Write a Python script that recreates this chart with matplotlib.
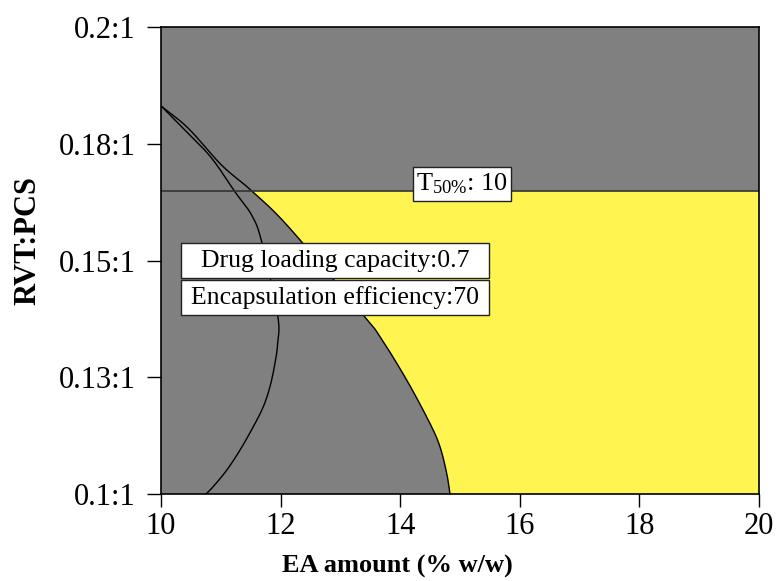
import matplotlib
matplotlib.use("Agg")
import numpy as np
import matplotlib.pyplot as plt
from matplotlib.patches import Rectangle, Polygon

# Data
x_ticks = [10, 12, 14, 16, 18, 20]
y_ticks = [0.1, 0.125, 0.15, 0.175, 0.2]
y_ticklabels = ["0.1:1", "0.13:1", "0.15:1", "0.18:1", "0.2:1"]

# Drug loading capacity = 0.7 contour (boundary of the yellow region)
dlc_x = [10.0, 10.457, 11.015, 11.517, 12.14, 13.383, 13.662, 14.109, 14.498, 14.666, 14.778, 14.833]
dlc_y = [0.1831, 0.1783, 0.1704, 0.1649, 0.1571, 0.1383, 0.1337, 0.1244, 0.1151, 0.1101, 0.1044, 0.1000]

# Encapsulation efficiency = 70 contour
ee_x = [10.0, 10.457, 10.848, 11.237, 11.517, 11.684, 11.951, 11.951, 11.906, 11.823, 11.711, 11.543, 11.321, 11.099, 10.875, 10.753]
ee_y = [0.1831, 0.1772, 0.1719, 0.1647, 0.1597, 0.1540, 0.1383, 0.1323, 0.1280, 0.1230, 0.1187, 0.1144, 0.1094, 0.1051, 0.1016, 0.1000]

# T50% = 10 contour
t50_y = 0.1649
t50_x = [10.0, 20.0]

plt.rcParams['font.family'] = ['Liberation Serif', 'DejaVu Serif']
plt.rcParams['mathtext.fontset'] = 'custom'
plt.rcParams['mathtext.rm'] = 'Liberation Serif'
plt.rcParams['mathtext.it'] = 'Liberation Serif'


def smooth(xs, ys, n=20):
    """Catmull-Rom rendering path through the read points (drawing only)."""
    P = np.column_stack([(np.array(xs) - 10) / 10.0, (np.array(ys) - 0.1) / 0.1])
    P = np.vstack([2 * P[0] - P[1], P, 2 * P[-1] - P[-2]])
    out = []
    for i in range(1, len(P) - 2):
        p0, p1, p2, p3 = P[i - 1], P[i], P[i + 1], P[i + 2]
        for t in np.linspace(0, 1, n, endpoint=False):
            t2, t3 = t * t, t * t * t
            pt = 0.5 * ((2 * p1) + (-p0 + p2) * t + (2 * p0 - 5 * p1 + 4 * p2 - p3) * t2
                        + (-p0 + 3 * p1 - 3 * p2 + p3) * t3)
            out.append(pt)
    out.append(P[-2])
    out = np.array(out)
    return out[:, 0] * 10 + 10, out[:, 1] * 0.1 + 0.1


fig = plt.figure(figsize=(7.83, 5.81), dpi=100)
ax = fig.add_axes([161/783, 1-494/581, (759-161)/783, (494-27)/581])
ax.set_xlim(10, 20)
ax.set_ylim(0.1, 0.2)
ax.set_facecolor('#808080')

dx, dy = smooth(dlc_x, dlc_y)
ex, ey = smooth(ee_x, ee_y)

# yellow region below T50 line, then grey region left of the DLC contour on top
ax.fill_between([10, 20], [0.1, 0.1], [t50_y, t50_y], facecolor='#FFF450', edgecolor='none', zorder=1)
gray_poly = list(zip(dx, dy)) + [(10, 0.1)]
ax.add_patch(Polygon(gray_poly, closed=True, facecolor='#808080', edgecolor='none', zorder=1.5))

ax.plot(dx, dy, color='black', lw=1.0, zorder=2)
ax.plot(ex, ey, color='black', lw=1.0, zorder=2)
ax.plot(t50_x, [t50_y, t50_y], color='#333333', lw=1.2, zorder=2)

ax.set_xticks(x_ticks)
ax.set_yticks(y_ticks)
ax.set_yticklabels(y_ticklabels)
ax.tick_params(axis='x', direction='out', length=9, width=1, labelsize=22, pad=4)
ax.tick_params(axis='y', direction='out', length=10, width=1, labelsize=22, pad=8)
for s in ax.spines.values():
    s.set_linewidth(1.2)

ax.set_xlabel('EA amount (% w/w)', fontsize=19, fontweight='bold')
ax.set_ylabel('RVT:PCS', fontsize=22, fontweight='bold')
ax.xaxis.set_label_coords((397 - 161) / 598, (494 - 566) / 467)
ax.xaxis.label.set_va('center')
ax.yaxis.set_label_coords((27.5 - 161) / 598, (494 - 241) / 467)
ax.yaxis.label.set_va('center')
ax.yaxis.label.set_ha('center')


def box(x0, y0, x1, y1, text, fs=18.5):
    X0 = (x0-161)/(759-161); X1 = (x1-161)/(759-161)
    Y0 = (494-y1)/(494-27); Y1 = (494-y0)/(494-27)
    ax.add_patch(Rectangle((X0, Y0), X1-X0, Y1-Y0, transform=ax.transAxes,
                           facecolor='white', edgecolor='#222222', lw=1.0, zorder=5))
    ax.text((X0+X1)/2, (Y0+Y1)/2, text, transform=ax.transAxes, ha='center', va='center',
            fontsize=fs, zorder=6)


box(181, 243, 489, 278, 'Drug loading capacity:0.7')
box(181, 280, 489, 315, 'Encapsulation efficiency:70')
box(413, 167, 511, 201, r'T$_{\mathregular{50\%}}$: 10', fs=19)

fig.savefig('out.png', dpi=100)
